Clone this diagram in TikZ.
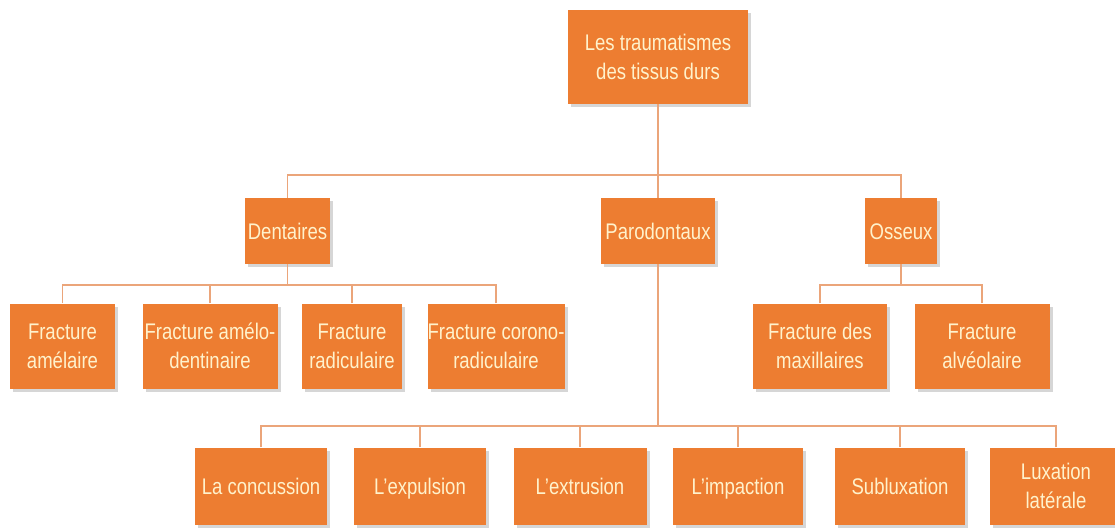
\documentclass[tikz,border=0pt]{standalone}
\usepackage{fontspec}
\setmainfont[FakeStretch=0.82]{Liberation Sans}
\usetikzlibrary{shadows}
\definecolor{boxorange}{HTML}{ED7D31}
\definecolor{linkorange}{HTML}{EBA57A}
\definecolor{textcream}{HTML}{FFF2CC}
\begin{document}
\begin{tikzpicture}[x=1pt,y=-1pt,
    box/.style={rectangle, fill=boxorange, text=textcream, align=center, inner sep=0pt,
      font=\fontsize{22.6}{29}\selectfont,
      drop shadow={shadow xshift=3pt, shadow yshift=-3pt, fill=black!40, opacity=0.4}},
    oneline/.style={text height=16pt, text depth=0pt},
    link/.style={draw=linkorange, line width=1.5pt}]
    \useasboundingbox (0,0) rectangle (1115,527);
    % root
    \node[box, minimum width=180pt, minimum height=94pt] (root) at (658,57) {Les traumatismes\\des tissus durs};
    % first level
    \node[box, oneline, minimum width=85pt, minimum height=66pt] (dent) at (287.5,231) {Dentaires};
    \node[box, oneline, minimum width=114pt, minimum height=66pt] (paro) at (658,231) {Parodontaux};
    \node[box, oneline, minimum width=72pt, minimum height=66pt] (oss) at (901,231) {Osseux};
    % children of Dentaires and Osseux
    \def\rowb{346}
    \node[box, minimum width=105pt, minimum height=85pt] (amel) at (62.5,\rowb) {Fracture\\amélaire};
    \node[box, minimum width=135pt, minimum height=85pt] (ameldent) at (210,\rowb) {Fracture amélo-\\dentinaire};
    \node[box, minimum width=100pt, minimum height=85pt] (radic) at (352,\rowb) {Fracture\\radiculaire};
    \node[box, minimum width=135pt, minimum height=85pt] (corono) at (496,\rowb) {Fracture corono-\\radiculaire};
    \node[box, minimum width=134pt, minimum height=85pt] (maxil) at (820,\rowb) {Fracture des\\maxillaires};
    \node[box, minimum width=135pt, minimum height=85pt] (alveo) at (982,\rowb) {Fracture\\alvéolaire};
    % children of Parodontaux
    \def\rowc{486}
    \node[box, oneline, minimum width=132pt, minimum height=77pt] (concu) at (261,\rowc) {La concussion};
    \node[box, oneline, minimum width=132pt, minimum height=77pt] (expul) at (420,\rowc) {L'expulsion};
    \node[box, oneline, minimum width=133pt, minimum height=77pt] (extru) at (580,\rowc) {L'extrusion};
    \node[box, oneline, minimum width=130pt, minimum height=77pt] (impac) at (738,\rowc) {L'impaction};
    \node[box, oneline, minimum width=130pt, minimum height=77pt] (sublu) at (900,\rowc) {Subluxation};
    \node[box, minimum width=132pt, minimum height=77pt] (luxat) at (1056,\rowc) {Luxation\\latérale};
    % bus points
    \coordinate (busroot) at (658,175);
    \coordinate (busdent) at (287.5,285);
    \coordinate (busoss) at (901,285);
    \coordinate (busparo) at (658,426);
    % links
    \draw[link] (root.south) -- (busroot);
    \foreach \n in {dent,paro,oss}
      \draw[link] (\n.north) |- (busroot);
    \draw[link] (dent.south) -- (busdent);
    \foreach \n in {amel,ameldent,radic,corono}
      \draw[link] (\n.north) |- (busdent);
    \draw[link] (oss.south) -- (busoss);
    \foreach \n in {maxil,alveo}
      \draw[link] (\n.north) |- (busoss);
    \draw[link] (paro.south) -- (busparo);
    \foreach \n in {concu,expul,extru,impac,sublu,luxat}
      \draw[link] (\n.north) |- (busparo);
\end{tikzpicture}
\end{document}
